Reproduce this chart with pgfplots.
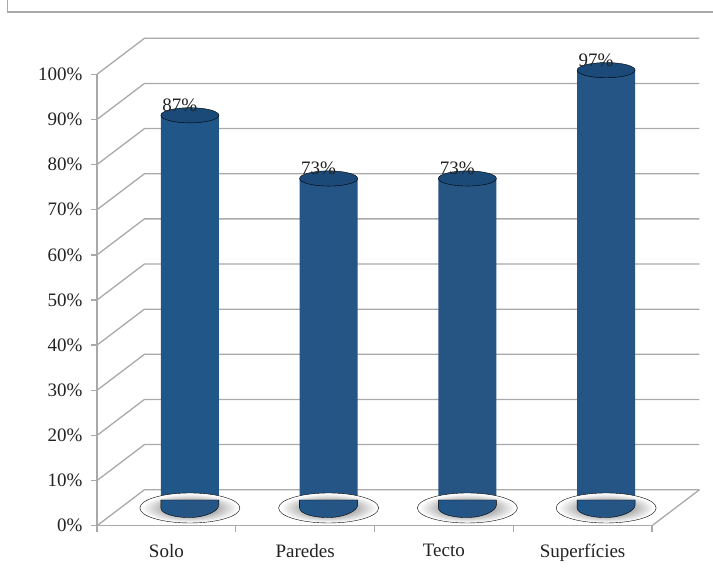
\documentclass[border=0pt]{standalone}
\usepackage{pgfplots}
\usepackage{pgfplotstable}
\usepackage{fontspec}
\pgfplotsset{compat=1.18}
\setmainfont{Liberation Serif}
\newcommand{\chartfont}{\fontsize{19}{22}\selectfont}

\definecolor{gridc}{HTML}{A9A9A9}
\definecolor{inkc}{HTML}{222222}
\definecolor{capc}{HTML}{1B4A78}

% Side-to-side lighting of the cylinders
\pgfdeclarehorizontalshading{cyl}{100bp}{
  color(0bp)=(rgb:red,25;green,70;blue,115);
  color(15bp)=(rgb:red,27;green,75;blue,122);
  color(30bp)=(rgb:red,33;green,85;blue,135);
  color(55bp)=(rgb:red,44;green,97;blue,150);
  color(72bp)=(rgb:red,38;green,88;blue,138);
  color(90bp)=(rgb:red,26;green,65;blue,105);
  color(100bp)=(rgb:red,20;green,52;blue,88)}
\pgfdeclareradialshading{floorshadow}{\pgfpoint{0bp}{0bp}}{
  color(0bp)=(black!42);
  color(11bp)=(black!38);
  color(24bp)=(white);
  color(50bp)=(white)}

\pgfdeclareplotmark{cyltop}{%
  \path[fill=capc,rotate=5] (0,0) ellipse [x radius=29pt,y radius=7.6pt];}
\pgfdeclareplotmark{cylbase}{%
  \path[shading=cyl] (-29pt,0pt)
    .. controls (-29pt,-6pt) and (-14pt,-10pt) .. (2pt,-9.5pt)
    .. controls (16pt,-9pt) and (29pt,-3pt) .. (29pt,3pt)
    -- (29pt,8pt) -- (-29pt,8pt) -- cycle;}
\pgfdeclareplotmark{cylshadow}{%
  \path[shading=floorshadow,rotate=7] (0,0) ellipse [x radius=50pt,y radius=15pt];}

\pgfplotstableread{
x   v
0.5 87
1.5 73
2.5 73
3.5 97
}\coverage

\pgfplotstableread{
x     y
0     0
0.342 7.97
4.342 7.97
}\wallline

\pgfplotstableread{
x     y
4     0
4.342 7.97
}\flooredge

\begin{document}
\begin{tikzpicture}[x=1pt,y=1pt]
\path[use as bounding box] (0,0) rectangle (713,583);
\draw[gridc,line width=1.3pt] (7.5,583) -- (7.5,571) -- (713,571);
\begin{axis}[
  at={(97pt,57.3pt)},anchor=origin,
  scale only axis,width=555pt,height=451.4pt,
  xmin=0,xmax=4,ymin=0,ymax=100,
  clip=false,
  axis x line*=bottom,axis y line*=left,
  axis line style={gridc,line width=1.3pt,-},
  tick style={gridc,line width=1.3pt},
  tick align=outside,major tick length=6pt,
  xtick={0,1,2,3,4},
  x tick label as interval,
  xticklabels={Solo,Paredes,Tecto,Superf\'icies},
  ytick={0,10,...,100},
  yticklabel={\pgfmathparse{int(\tick)}\pgfmathresult\%},
  /pgf/number format/assume math mode=true,
  tick label style={font=\chartfont,text=inkc},
  xticklabel style={yshift=-9pt},
  yticklabel style={xshift=-5pt},
]
% Side wall and back wall rulings
\pgfplotsinvokeforeach{0,10,...,100}{
  \addplot[gridc,line width=1.3pt,forget plot]
    table[x=x,y expr=\thisrow{y}+#1]{\wallline};
}
\addplot[gridc,line width=1.3pt,forget plot] table[x=x,y=y]{\flooredge};

% Cylinders: shadow, shaft, rounded base, cap
\addplot[only marks,mark=cylshadow,xshift=23.5pt,yshift=17.7pt,forget plot]
  table[x=x,y expr=0]{\coverage};
\addplot[ybar,bar width=58pt,draw=none,shading=cyl,xshift=23.5pt,yshift=17.7pt,forget plot]
  table[x=x,y=v]{\coverage};
\addplot[only marks,mark=cylbase,xshift=23.5pt,yshift=17.7pt,forget plot]
  table[x=x,y expr=0]{\coverage};
\addplot[only marks,mark=cyltop,xshift=23.5pt,yshift=17.7pt,forget plot]
  table[x=x,y=v]{\coverage};

% Value labels, sitting over the caps
\addplot[draw=none,mark=none,xshift=23.5pt,yshift=17.7pt,forget plot,
  nodes near coords={\pgfmathprintnumber{\pgfplotspointmeta}\%},
  every node near coord/.style={anchor=center,xshift=-10pt,yshift=10pt,
    font=\chartfont,text=inkc,/pgf/number format/assume math mode=true},
  point meta=explicit]
  table[x=x,y=v,meta=v]{\coverage};
\end{axis}
\end{tikzpicture}
\end{document}
